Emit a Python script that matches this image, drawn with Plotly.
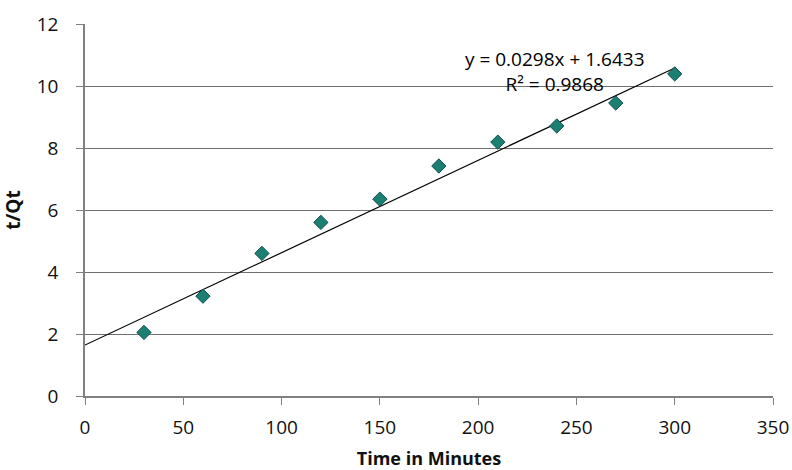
import plotly.graph_objects as go

time_min = [30, 60, 90, 120, 150, 180, 210, 240, 270, 300]
t_over_qt = [2.05, 3.22, 4.60, 5.60, 6.35, 7.42, 8.19, 8.71, 9.45, 10.39]
slope = 0.0298
intercept = 1.6433
r2 = 0.9868
trend_x = [0, 300]
trend_y = [intercept + slope * x for x in trend_x]

FONT = "Open Sans"
fig = go.Figure()
fig.add_trace(go.Scatter(x=trend_x, y=trend_y, mode="lines",
                         line=dict(color="black", width=1.2), showlegend=False, hoverinfo="skip"))
fig.add_trace(go.Scatter(x=time_min, y=t_over_qt, mode="markers",
                         marker=dict(symbol="diamond", size=11, color="#1b7f72",
                                     line=dict(color="#0f4f52", width=1)),
                         showlegend=False))

fig.add_annotation(x=(555 - 85) / 688, y=(396 - 71) / 372, xref="paper", yref="paper",
                   xanchor="center", yanchor="middle",
                   text=f"y = {slope}x + {intercept}<br>R² = {r2}",
                   showarrow=False, align="center",
                   font=dict(family=FONT, size=19, color="black"))

fig.update_layout(
    width=792, height=470,
    margin=dict(l=85, r=19, t=24, b=74),
    paper_bgcolor="white", plot_bgcolor="white",
    font=dict(family=FONT, size=19, color="#111111"),
    xaxis=dict(range=[0, 350], dtick=50, showgrid=False, showline=True, automargin=False,
               linecolor="#808080", linewidth=1.5, ticks="outside", ticklen=7,
               tickcolor="#808080", zeroline=False, ticklabelstandoff=6,
               title=dict(text="<b>Time in Minutes</b>", font=dict(size=18))),
    yaxis=dict(range=[0, 12], dtick=2, showgrid=True, gridcolor="#707070", gridwidth=1.2,
               showline=True, linecolor="#808080", linewidth=1.5, ticks="outside",
               ticklen=7, tickcolor="#808080", zeroline=False, automargin=False,
               ticklabelstandoff=14,
               title=dict(text="<b>t/Qt</b>", font=dict(size=19))),
)
fig.write_html("out.html")
